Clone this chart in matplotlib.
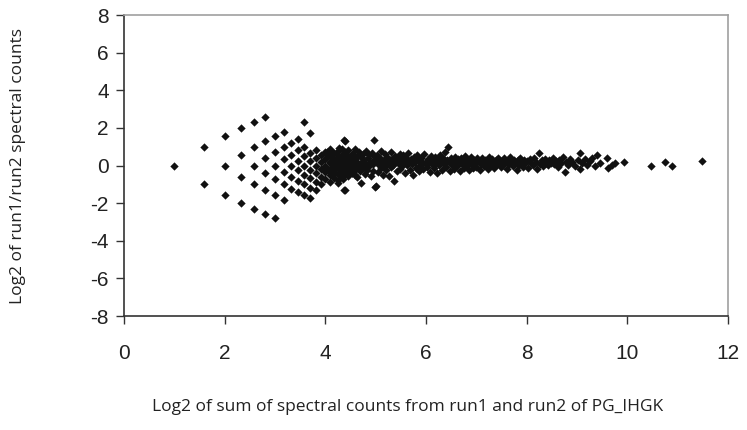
import matplotlib
matplotlib.use('Agg')
import matplotlib.pyplot as plt
import numpy as np

plt.rcParams['axes.unicode_minus'] = False

# low spectral counts: (run1, run2) pairs, these form the lattice on the left
run1_low = [1,
            2, 1,
            3, 2, 1,
            4, 3, 2, 1,
            5, 4, 3, 2, 1,
            6, 5, 4, 3, 2, 1,
            6, 5, 4, 3, 2, 1,
            7, 6, 5, 4, 3, 2,
            7, 6, 5, 4, 3,
            8, 7, 6, 5, 4, 3,
            10, 8, 7, 6, 5, 4, 3,
            10, 8, 7, 6, 5, 4, 3,
            9, 8, 7, 6, 5, 4,
            9, 8, 7, 6, 5,
            10, 9, 8, 7, 6,
            11, 10, 9, 8, 7, 6,
            11, 10, 9, 8, 7,
            12, 11, 10, 9, 8, 7,
            13, 12, 11, 10, 9, 8,
            15, 13, 12, 11, 10, 9, 6,
            13, 12, 11, 10, 9,
            14, 13, 12, 11, 10,
            14, 13, 12, 11, 10]
run2_low = [1,
            1, 2,
            1, 2, 3,
            1, 2, 3, 4,
            1, 2, 3, 4, 5,
            1, 2, 3, 4, 5, 6,
            2, 3, 4, 5, 6, 7,
            2, 3, 4, 5, 6, 7,
            3, 4, 5, 6, 7,
            3, 4, 5, 6, 7, 8,
            2, 4, 5, 6, 7, 8, 9,
            3, 5, 6, 7, 8, 9, 10,
            5, 6, 7, 8, 9, 10,
            6, 7, 8, 9, 10,
            6, 7, 8, 9, 10,
            6, 7, 8, 9, 10, 11,
            7, 8, 9, 10, 11,
            7, 8, 9, 10, 11, 12,
            7, 8, 9, 10, 11, 12,
            6, 8, 9, 10, 11, 12, 15,
            9, 10, 11, 12, 13,
            9, 10, 11, 12, 13,
            10, 11, 12, 13, 14]

# higher counts, read directly as (log2 sum, log2 ratio)
cloud_x = [4.02, 4.06, 4.09, 4.12, 4.15, 4.18, 4.21, 4.24, 4.27, 4.30, 4.33, 4.36, 4.39, 4.42, 4.45, 4.37, 4.37, 4.25, 4.04, 4.47,
           4.52, 4.53, 4.55, 4.56, 4.58, 4.59, 4.61, 4.62, 4.64, 4.65, 4.67, 4.68, 4.70, 4.71, 4.72, 4.74, 4.75, 4.77, 4.78, 4.80,
           4.81, 4.83, 4.84, 4.86, 4.87, 4.89, 4.90, 4.92, 4.94, 4.95, 4.97, 4.98, 4.99, 4.96,
           5.01, 5.02, 5.03, 5.05, 5.06, 5.08, 5.10, 5.11, 5.13, 5.14, 5.16, 5.18, 5.19, 5.21, 5.23, 5.24, 5.26, 5.28, 5.30, 5.31,
           5.33, 5.35, 5.37, 5.38, 5.40, 5.42, 5.44, 5.46, 5.48, 5.49,
           5.51, 5.53, 5.55, 5.57, 5.58, 5.60, 5.62, 5.64, 5.66, 5.68, 5.70, 5.72, 5.74, 5.76, 5.78, 5.80, 5.82, 5.84, 5.86, 5.88,
           5.90, 5.92, 5.94, 5.96, 5.98,
           6.01, 6.03, 6.05, 6.07, 6.09, 6.11, 6.13, 6.15, 6.17, 6.19, 6.21, 6.23, 6.25, 6.27, 6.29, 6.31, 6.33, 6.35, 6.37, 6.39,
           6.41, 6.44, 6.46, 6.48, 6.50,
           6.52, 6.54, 6.56, 6.58, 6.60, 6.62, 6.64, 6.66, 6.68, 6.70, 6.72, 6.74, 6.76, 6.78, 6.80, 6.82, 6.84, 6.86, 6.88, 6.90,
           6.92, 6.94, 6.96, 6.98,
           7.00, 7.02, 7.05, 7.07, 7.09, 7.11, 7.14, 7.16, 7.18, 7.21, 7.23, 7.25, 7.27, 7.30, 7.32, 7.34, 7.36, 7.39, 7.41, 7.43,
           7.46, 7.48,
           7.50, 7.53, 7.55, 7.58, 7.60, 7.62, 7.65, 7.67, 7.70, 7.72, 7.75, 7.77, 7.80, 7.82, 7.85, 7.87, 7.90, 7.92, 7.95, 7.97,
           8.00, 8.03, 8.06, 8.09, 8.12, 8.15, 8.18, 8.21, 8.25, 8.27, 8.30, 8.33, 8.36, 8.39, 8.42, 8.45, 8.48,
           8.52, 8.55, 8.58, 8.62, 8.65, 8.68, 8.72, 8.76, 8.79, 8.83, 8.87, 8.91, 8.95,
           9.02, 9.06, 9.06, 9.10, 9.15, 9.20, 9.25, 9.30, 9.36, 9.39, 9.45, 9.59, 9.62, 9.69, 9.76, 9.93,
           10.46, 10.75, 10.88, 11.48]
cloud_y = [0.42, -0.25, 0.12, 0.78, -0.52, 0.30, -0.08, 0.61, 0.95, -0.35, 0.18, -0.70, 0.47, 0.02, 0.85, 1.35, -1.31, -0.92, 0.70, -0.15,
           0.35, -0.42, 0.63, 0.08, -0.18, 0.88, 0.25, -0.60, 0.50, 0.00, 0.72, -0.30, 0.15, -0.93, 0.42, -0.12, 0.60, 0.28, -0.45, 0.05,
           0.80, -0.22, 0.38, 0.55, -0.05, 0.20, -0.55, 0.68, 0.10, -0.28, 1.35, -1.15, 0.45, 0.30,
           -1.10, 0.22, 0.58, -0.35, 0.05, 0.40, -0.15, 0.75, 0.18, -0.48, 0.32, 0.00, 0.62, -0.25, 0.45, 0.12, -0.58, 0.28, 0.70, -0.10,
           0.35, 0.05, -0.84, 0.52, 0.20, -0.30, 0.40, 0.08, 0.60, -0.18,
           0.30, -0.05, 0.55, 0.15, -0.38, 0.42, 0.02, 0.65, 0.22, -0.25, 0.35, 0.10, -0.50, 0.48, 0.18, -0.12, 0.58, 0.28, -0.30, 0.05,
           0.40, 0.20, -0.20, 0.62, 0.12,
           -0.08, 0.35, 0.18, -0.32, 0.50, 0.08, 0.28, -0.15, 0.45, 0.15, -0.40, 0.32, 0.02, 0.55, 0.22, -0.22, 0.38, 0.10, 0.70, -0.10,
           0.30, 1.00, 0.18, -0.28, 0.42,
           0.05, 0.25, -0.18, 0.48, 0.15, -0.05, 0.35, 0.20, -0.30, 0.40, 0.10, 0.28, -0.12, 0.52, 0.18, 0.00, 0.32, -0.22, 0.22, 0.45,
           0.08, -0.15, 0.30, 0.15,
           -0.08, 0.38, 0.20, -0.25, 0.10, 0.42, 0.25, -0.02, 0.30, 0.12, -0.20, 0.48, 0.18, 0.02, 0.35, 0.22, -0.15, 0.28, 0.08, 0.40,
           0.15, -0.10,
           0.25, 0.05, 0.38, 0.18, -0.18, 0.30, 0.10, 0.45, 0.22, -0.05, 0.32, 0.15, -0.22, 0.28, 0.05, 0.40, 0.20, -0.08, 0.30, 0.12,
           0.22, -0.12, 0.35, 0.15, 0.02, 0.42, 0.20, -0.18, 0.66, 0.10, 0.28, -0.05, 0.35, 0.15, 0.02, 0.30, 0.12,
           0.40, 0.08, 0.22, -0.10, 0.30, 0.15, 0.45, -0.32, 0.20, 0.05, 0.35, 0.18, 0.00,
           0.28, 0.66, -0.19, 0.12, 0.35, 0.05, 0.22, 0.40, -0.05, 0.57, 0.15, 0.39, -0.14, 0.04, 0.12, 0.18,
           0.00, 0.20, 0.00, 0.25]

x_ticks = [0, 2, 4, 6, 8, 10, 12]
y_ticks = [8, 6, 4, 2, 0, -2, -4, -6, -8]

r1 = np.array(run1_low, dtype=float)
r2 = np.array(run2_low, dtype=float)
xs = np.concatenate([np.log2(r1 + r2), cloud_x])
ys = np.concatenate([np.log2(r1 / r2), cloud_y])

fig = plt.figure(figsize=(7.47, 4.30), dpi=100)
ax = fig.add_axes([0.166, 0.265, 0.8086, 0.70])

ax.scatter(xs, ys, marker='D', s=18, color='#111111', linewidths=0, zorder=3)

ax.set_xlim(0, 12)
ax.set_ylim(-8, 8)
ax.set_xticks(x_ticks)
ax.set_yticks(y_ticks)
ax.tick_params(axis='both', direction='out', length=6, width=1, colors='#333333',
               labelsize=15, pad=5)
ax.tick_params(axis='x', pad=14)
for lbl in ax.get_xticklabels() + ax.get_yticklabels():
    lbl.set_fontfamily('Liberation Sans')
    lbl.set_color('#222222')

for side in ['left', 'bottom']:
    ax.spines[side].set_color('#333333')
    ax.spines[side].set_linewidth(1.2)
for side in ['top', 'right']:
    ax.spines[side].set_color('#a0a0a0')
    ax.spines[side].set_linewidth(1.2)

ax.set_xlabel('Log2 of sum of spectral counts from run1 and run2 of PG_IHGK',
              fontsize=12.5, family='Open Sans', color='#222222')
ax.xaxis.set_label_coords(0.47, -0.275)
ax.set_ylabel('Log2 of run1/run2 spectral counts',
              fontsize=12.5, family='Open Sans', color='#222222', labelpad=46)

fig.savefig('out.png', dpi=100, facecolor='white')
